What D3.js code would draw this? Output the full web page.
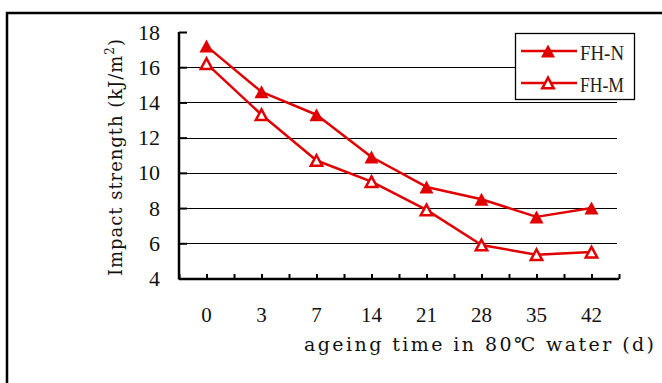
<!DOCTYPE html>
<html>
<head>
<meta charset="utf-8">
<script src="https://cdn.jsdelivr.net/npm/d3@7"></script>
<style>
  body { margin: 0; background: #fff; }
  svg { display: block; }
</style>
</head>
<body>
<div id="chart"></div>
<script>
var days = ["0", "3", "7", "14", "21", "28", "35", "42"];
var fhN = [17.2, 14.6, 13.3, 10.9, 9.2, 8.5, 7.5, 8.0];
var fhM = [16.2, 13.3, 10.7, 9.5, 7.9, 5.9, 5.35, 5.5];
var yTicks = [4, 6, 8, 10, 12, 14, 16, 18];
var gridTicks = [6, 8, 10, 12, 14, 16];
var seriesNames = ["FH-N", "FH-M"];

var red = "#e00000";
var serif = "'Liberation Serif', 'Noto Sans CJK SC', serif";
var titleFont = "'DejaVu Serif', 'Noto Sans CJK SC', serif";

var svg = d3.select("#chart")
            .append("svg")
            .attr("width", 662)
            .attr("height", 383);

svg.append("rect")
   .attr("width", 662)
   .attr("height", 383)
   .attr("fill", "#fff");

// outer frame, runs off the right and bottom edges
svg.append("rect")
   .attr("x", 7)
   .attr("y", 13)
   .attr("width", 700)
   .attr("height", 420)
   .attr("fill", "none")
   .attr("stroke", "#000")
   .attr("stroke-width", 2.5);

var x = d3.scaleBand().domain(days).range([179, 619]);
var xHalf = d3.scaleLinear().domain([0, 16]).range([179, 619]);
var y = d3.scaleLinear().domain([4, 18]).range([278.5, 32]);

function cx(i) { return x(days[i]) + x.bandwidth() / 2; }

// gridlines
svg.append("g")
   .selectAll("line")
   .data(gridTicks)
   .enter().append("line")
   .attr("x1", 179)
   .attr("x2", 617)
   .attr("y1", function(d) { return Math.round(y(d)) + 0.5; })
   .attr("y2", function(d) { return Math.round(y(d)) + 0.5; })
   .attr("stroke", "#000")
   .attr("stroke-width", 1);

// y axis
var yAxis = svg.append("g")
   .attr("transform", "translate(179,0)")
   .call(d3.axisLeft(y).tickValues(yTicks).tickSize(-8).tickPadding(19));
yAxis.attr("font-family", serif).attr("font-size", 22);
yAxis.select(".domain").attr("stroke-width", 2.5).attr("d", "M0," + y(18) + "V" + (y(4) + 1));
yAxis.selectAll(".tick line").attr("stroke-width", 2);
yAxis.selectAll("text").attr("fill", "#111");

// x axis ticks
var xTickAxis = svg.append("g")
   .attr("transform", "translate(0,279)")
   .call(d3.axisBottom(xHalf).tickValues(d3.range(0, 17)).tickSize(-5).tickFormat(""));
xTickAxis.select(".domain").attr("stroke-width", 2.5).attr("d", "M179,0H619");
xTickAxis.selectAll(".tick line").attr("stroke-width", 2);

// x labels
var xLab = svg.append("g")
   .attr("transform", "translate(0,279)")
   .call(d3.axisBottom(x).tickSize(0).tickPadding(28));
xLab.attr("font-family", serif).attr("font-size", 21);
xLab.select(".domain").remove();
xLab.selectAll("text").attr("fill", "#111");

// axis titles
svg.append("text")
   .attr("x", 304)
   .attr("y", 351)
   .attr("font-family", titleFont)
   .attr("font-size", 19)
   .attr("fill", "#111")
   .attr("textLength", 350)
   .attr("lengthAdjust", "spacing")
   .text("ageing time in 80℃ water (d)");

var yt = svg.append("text")
   .attr("transform", "translate(122,276) rotate(-90)")
   .attr("font-family", titleFont)
   .attr("font-size", 18)
   .attr("fill", "#111")
   .attr("textLength", 237)
   .attr("lengthAdjust", "spacing");
yt.append("tspan").text("Impact strength (kJ/m");
yt.append("tspan").attr("dy", -8).attr("font-size", 12).text("2");
yt.append("tspan").attr("dy", 8).text(")");

// series
var line = d3.line()
   .x(function(d, i) { return cx(i); })
   .y(function(d) { return y(d); });

function filledTri(s) {
  return "M0," + (-s) + "L" + (s * 1.08) + "," + s + "L" + (-s * 1.08) + "," + s + "Z";
}

var allSeries = [fhN, fhM];

allSeries.forEach(function(vals, k) {
  svg.append("path")
     .datum(vals)
     .attr("d", line)
     .attr("fill", "none")
     .attr("stroke", red)
     .attr("stroke-width", 2.5)
     .attr("stroke-linejoin", "round");
});

allSeries.forEach(function(vals, k) {
  svg.append("g")
     .selectAll("path")
     .data(vals)
     .enter().append("path")
     .attr("transform", function(d, i) { return "translate(" + cx(i) + "," + y(d) + ")"; })
     .attr("d", k == 0 ? filledTri(6.5) : filledTri(5.3))
     .attr("fill", k == 0 ? red : "#fff")
     .attr("stroke", k == 0 ? "none" : red)
     .attr("stroke-width", 2.5);
});

// legend
var lg = svg.append("g");
lg.append("rect")
  .attr("x", 515.5)
  .attr("y", 33.5)
  .attr("width", 119)
  .attr("height", 66)
  .attr("fill", "#fff")
  .attr("stroke", "#000")
  .attr("stroke-width", 1.3);

seriesNames.forEach(function(name, k) {
  var ly = 51 + k * 32;
  lg.append("line")
    .attr("x1", 521).attr("x2", 577)
    .attr("y1", ly).attr("y2", ly)
    .attr("stroke", red)
    .attr("stroke-width", 2.5);
  lg.append("path")
    .attr("transform", "translate(548," + ly + ")")
    .attr("d", k == 0 ? filledTri(6.5) : filledTri(5.3))
    .attr("fill", k == 0 ? red : "#fff")
    .attr("stroke", k == 0 ? "none" : red)
    .attr("stroke-width", 2.5);
  lg.append("text")
    .attr("x", 580)
    .attr("y", ly + 8.5)
    .attr("font-family", serif)
    .attr("font-size", 21)
    .attr("fill", "#222")
    .attr("textLength", 44)
    .attr("lengthAdjust", "spacingAndGlyphs")
    .text(name);
});
</script>
</body>
</html>
